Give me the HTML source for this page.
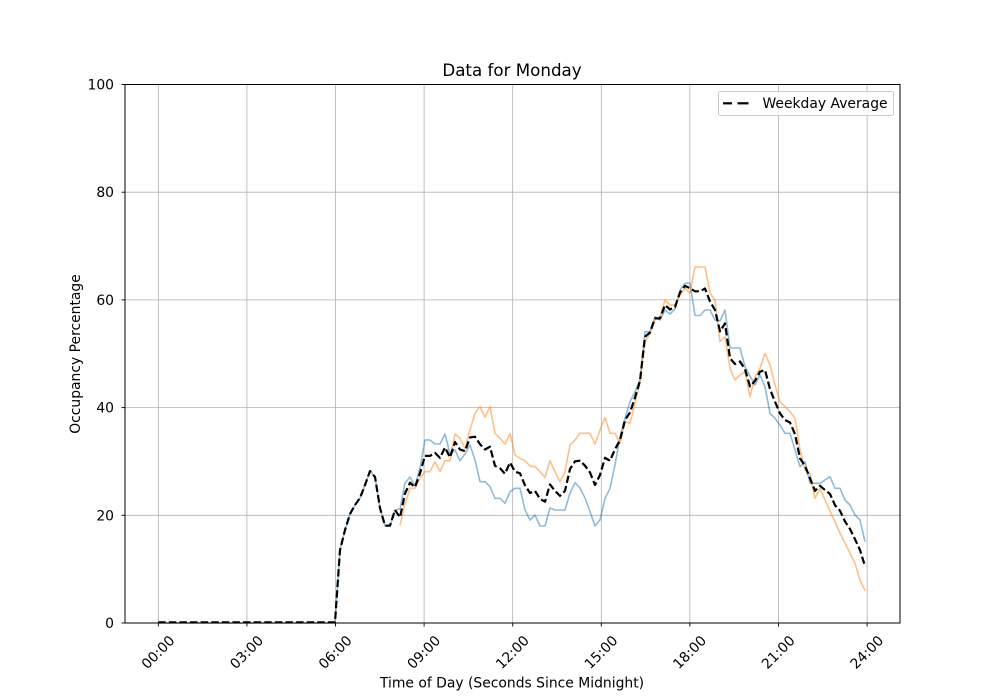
<!DOCTYPE html>
<html>
<head>
<meta charset="utf-8">
<style>
html,body{margin:0;padding:0;background:#fff;}
svg{display:block;}
text{font-family:"DejaVu Sans","Liberation Sans",sans-serif;fill:#000;}
</style>
</head>
<body>
<svg width="1000" height="700" viewBox="0 0 1000 700" xmlns="http://www.w3.org/2000/svg">
<rect x="0" y="0" width="1000" height="700" fill="#fff"/>
<!-- grid -->
<g stroke="#b0b0b0" stroke-width="0.8" fill="none">
<line x1="158.3" y1="84.5" x2="158.3" y2="623"/>
<line x1="246.9" y1="84.5" x2="246.9" y2="623"/>
<line x1="335.5" y1="84.5" x2="335.5" y2="623"/>
<line x1="424.1" y1="84.5" x2="424.1" y2="623"/>
<line x1="512.7" y1="84.5" x2="512.7" y2="623"/>
<line x1="601.3" y1="84.5" x2="601.3" y2="623"/>
<line x1="689.9" y1="84.5" x2="689.9" y2="623"/>
<line x1="778.5" y1="84.5" x2="778.5" y2="623"/>
<line x1="867.1" y1="84.5" x2="867.1" y2="623"/>
<line x1="125" y1="515.3" x2="900" y2="515.3"/>
<line x1="125" y1="407.6" x2="900" y2="407.6"/>
<line x1="125" y1="299.9" x2="900" y2="299.9"/>
<line x1="125" y1="192.2" x2="900" y2="192.2"/>
</g>
<!-- series -->
<polyline fill="none" stroke="#1f77b4" stroke-opacity="0.5" stroke-width="1.6" stroke-linejoin="round" points="158.3,623 335,623 340,550 345,530 350,514 355,505 360,498 365,485 370,471 375,477 380,508 385,525.7 390,525.7 395,510 400,509 405,483 410,477 415,486 420,468 425,440 430,440 435,444 440,444 445,434 450,454 455,450 460,460.7 465,454 470,445 475,460 480,481.7 485,481.7 490,486.7 495,498.3 500,498.3 505,503.3 510,491.7 515,488.3 520,488.3 525,510 530,520 535,515 540,526 545,526 550,508 555,510 560,510 565,510 570,493 575,482.7 580,488 585,498 590,511.7 595,526 600,520 605,498.3 610,488.3 615,465 620,437 625,418.3 630,401.7 635,391.7 640,380 645,331.7 650,331.7 655,316.7 660,320 665,310 670,314 675,309 680,290 685,283.3 690,283.3 695,315.5 700,315.5 705,310 710,310 715,320 720,321 725,310 730,348 735,348 740,348 745,366.7 750,376 755,385 760,375 765,386.7 770,413.3 775,418.3 780,425 785,433.3 790,433.3 795,450 800,466.7 805,461.7 810,483.3 815,483.3 820,483.3 825,480 830,476.7 835,488.3 840,488.3 845,500 850,505 855,515 860,520 865,541.7"/>
<polyline fill="none" stroke="#ff7f0e" stroke-opacity="0.5" stroke-width="1.6" stroke-linejoin="round" points="400,525.7 405,504 410,488.3 415,488.3 420,478.3 425,471.7 430,471.7 435,461.7 440,471.7 445,460.7 450,460.7 455,434 460,438.3 465,448.3 470,430 475,413.3 480,406.7 485,417.3 490,406.7 495,433.3 500,438.3 505,444.3 510,433.3 515,455 520,458.3 525,460.7 530,466 535,466.7 540,471.7 545,477.3 550,460.7 555,471.7 560,481.7 565,471.7 570,445 575,440 580,433.3 585,433.3 590,433.3 595,444 600,430 605,417.3 610,433.3 615,433.3 620,443.3 625,421.7 630,423.3 635,403.3 640,381.7 645,341.7 650,333.3 655,320 660,316.7 665,300 670,305 675,305 680,295 685,288.3 690,293.3 695,267 700,267 705,267 710,293 715,300 720,341.7 725,336.7 730,368.3 735,380 740,375 745,371.7 750,396.7 755,376.7 760,368.3 765,353.3 770,365 775,385 780,401.7 785,406.7 790,411.7 795,418.3 800,450 805,470 810,473.3 815,498.3 820,488.3 825,500 830,511 835,522 840,533 845,543 850,553 855,563.3 860,580 865,590.7"/>
<polyline fill="none" stroke="#000" stroke-width="2.2" stroke-dasharray="7.4,3.2" stroke-linejoin="round" points="158.3,622.3 335,622.3 340,550 345,530 350,514 355,505 360,498 365,485 370,471 375,477 380,508 385,525.7 390,525.7 395,510 400,517.4 405,493.5 410,482.7 415,487.2 420,473.2 425,455.9 430,455.9 435,452.9 440,457.9 445,447.4 450,457.4 455,442 460,449.5 465,451.2 470,437.5 475,436.7 480,444.2 485,449.5 490,446.7 495,465.8 500,468.3 505,473.8 510,462.5 515,471.7 520,473.3 525,485.4 530,493 535,490.9 540,498.9 545,501.7 550,484.4 555,490.9 560,495.9 565,490.9 570,469 575,461.4 580,460.7 585,465.7 590,472.5 595,485 600,475 605,457.8 610,460.8 615,449.2 620,440.2 625,420 630,412.5 635,397.5 640,380.9 645,336.7 650,332.5 655,318.4 660,318.4 665,305 670,309.5 675,307 680,292.5 685,285.8 690,288.3 695,291.3 700,291.3 705,288.5 710,301.5 715,310 720,331.4 725,323.4 730,358.2 735,364 740,361.5 745,369.2 750,386.4 755,380.9 760,371.7 765,370 770,389.2 775,401.7 780,413.4 785,420 790,422.5 795,434.2 800,458.4 805,465.9 810,478.3 815,490.8 820,485.8 825,490 830,493.9 835,505.2 840,510.7 845,521.5 850,529 855,539.2 860,550 865,566.2"/>
<!-- spines -->
<rect x="125" y="84.5" width="775" height="538.5" fill="none" stroke="#000" stroke-width="1"/>
<!-- ticks -->
<g stroke="#000" stroke-width="0.9">
<line x1="121.5" y1="623" x2="125" y2="623"/>
<line x1="121.5" y1="515.3" x2="125" y2="515.3"/>
<line x1="121.5" y1="407.6" x2="125" y2="407.6"/>
<line x1="121.5" y1="299.9" x2="125" y2="299.9"/>
<line x1="121.5" y1="192.2" x2="125" y2="192.2"/>
<line x1="121.5" y1="84.5" x2="125" y2="84.5"/>
<line x1="158.3" y1="623" x2="158.3" y2="626.5"/>
<line x1="246.9" y1="623" x2="246.9" y2="626.5"/>
<line x1="335.5" y1="623" x2="335.5" y2="626.5"/>
<line x1="424.1" y1="623" x2="424.1" y2="626.5"/>
<line x1="512.7" y1="623" x2="512.7" y2="626.5"/>
<line x1="601.3" y1="623" x2="601.3" y2="626.5"/>
<line x1="689.9" y1="623" x2="689.9" y2="626.5"/>
<line x1="778.5" y1="623" x2="778.5" y2="626.5"/>
<line x1="867.1" y1="623" x2="867.1" y2="626.5"/>
</g>
<!-- y tick labels -->
<g font-size="13.9" text-anchor="end">
<text x="114" y="628">0</text>
<text x="114" y="520.3">20</text>
<text x="114" y="412.6">40</text>
<text x="114" y="304.9">60</text>
<text x="114" y="197.2">80</text>
<text x="114" y="89.5">100</text>
</g>
<!-- x tick labels -->
<g font-size="13.9" text-anchor="middle">
<text transform="translate(157.8,652) rotate(-45)" dy="0.36em">00:00</text>
<text transform="translate(246.4,652) rotate(-45)" dy="0.36em">03:00</text>
<text transform="translate(335,652) rotate(-45)" dy="0.36em">06:00</text>
<text transform="translate(423.6,652) rotate(-45)" dy="0.36em">09:00</text>
<text transform="translate(512.2,652) rotate(-45)" dy="0.36em">12:00</text>
<text transform="translate(600.8,652) rotate(-45)" dy="0.36em">15:00</text>
<text transform="translate(689.4,652) rotate(-45)" dy="0.36em">18:00</text>
<text transform="translate(778,652) rotate(-45)" dy="0.36em">21:00</text>
<text transform="translate(866.6,652) rotate(-45)" dy="0.36em">24:00</text>
</g>
<!-- labels -->
<text x="512" y="687.5" font-size="13.9" text-anchor="middle">Time of Day (Seconds Since Midnight)</text>
<text transform="translate(80,354) rotate(-90)" font-size="13.9" text-anchor="middle">Occupancy Percentage</text>
<text x="512" y="76" font-size="16.7" text-anchor="middle">Data for Monday</text>
<!-- legend -->
<rect x="718.5" y="91.5" width="175" height="24" rx="2" ry="2" fill="#fff" fill-opacity="0.8" stroke="#cccccc" stroke-width="1"/>
<line x1="723" y1="103.3" x2="732" y2="103.3" stroke="#000" stroke-width="2.2"/>
<line x1="737.5" y1="103.3" x2="748.5" y2="103.3" stroke="#000" stroke-width="2.2"/>
<text x="762.5" y="107.8" font-size="13.9">Weekday Average</text>
</svg>
</body>
</html>
